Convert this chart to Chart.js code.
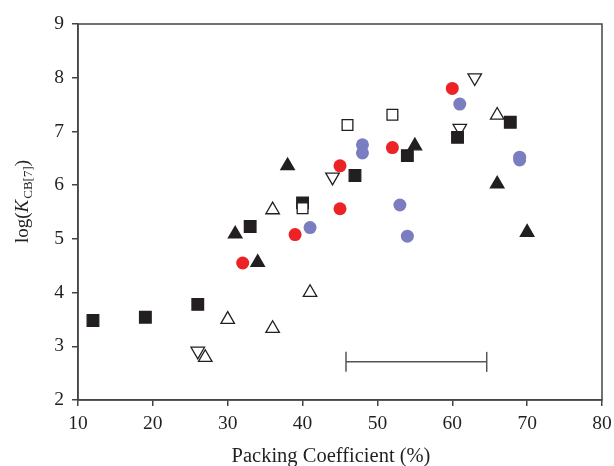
<!DOCTYPE html>
<html>
<head>
<meta charset="utf-8">
<script src="https://cdn.jsdelivr.net/npm/chart.js@4/dist/chart.umd.min.js"></script>
<style>
  html, body { margin: 0; padding: 0; background: #fff; }
  #wrap { width: 614px; height: 466px; }
</style>
</head>
<body>
<div id="wrap"><canvas id="chart" width="614" height="466"></canvas></div>
<script>
// values
const filledSquareX = [12, 19, 26, 33, 40, 47, 54, 60.7, 67.75];
const filledSquareY = [3.48, 3.54, 3.78, 5.23, 5.67, 6.18, 6.55, 6.89, 7.17];

const openSquareX = [40, 46, 52];
const openSquareY = [5.57, 7.12, 7.31];

const filledTriX = [31, 34, 38, 55, 66, 70];
const filledTriY = [5.09, 4.56, 6.36, 6.73, 6.02, 5.12];

const openTriUpX = [27, 30, 36, 36, 41, 66];
const openTriUpY = [2.79, 3.50, 3.33, 5.54, 4.00, 7.30];

const openTriDownX = [26, 44, 61, 63];
const openTriDownY = [2.91, 6.15, 7.06, 8.00];

const redX = [32, 39, 45, 45, 52, 60];
const redY = [4.55, 5.08, 5.56, 6.36, 6.70, 7.80];

const blueX = [41, 48, 48, 53, 54, 61, 69, 69];
const blueY = [5.21, 6.75, 6.60, 5.63, 5.05, 7.51, 6.52, 6.47];

// horizontal error bar at the bottom
const errorBarX = [45.8, 64.6];
const errorBarY = [2.71, 2.71];

const xTicks = [10, 20, 30, 40, 50, 60, 70, 80];
const yTicks = [2, 3, 4, 5, 6, 7, 8, 9];

const xTitle = 'Packing Coefficient (%)';

const FONT = "'Liberation Serif', 'Times New Roman', serif";
const INK = '#231f20';
const FRAME = '#444444';

function toPoints(xs, ys) {
    return xs.map((x, i) => ({ x: x, y: ys[i] }));
}

function markerSet(label, xs, ys, style, opts) {
    return Object.assign({
        label: label,
        data: toPoints(xs, ys),
        showLine: false,
        pointStyle: style,
        pointRotation: 0,
        pointRadius: 6.5,
        pointBorderWidth: 1.3,
    }, opts);
}

const datasets = [
    markerSet('open square', openSquareX, openSquareY, 'rect', {
        pointRadius: 7.6, backgroundColor: '#ffffff', borderColor: INK,
    }),
    markerSet('filled square', filledSquareX, filledSquareY, 'rect', {
        pointRadius: 8.2, backgroundColor: INK, borderColor: INK,
    }),
    markerSet('open triangle up', openTriUpX, openTriUpY, 'triangle', {
        pointRadius: 7.8, backgroundColor: '#ffffff', borderColor: INK,
    }),
    markerSet('open triangle down', openTriDownX, openTriDownY, 'triangle', {
        pointRadius: 7.8, pointRotation: 180, backgroundColor: '#ffffff', borderColor: INK,
    }),
    markerSet('filled triangle', filledTriX, filledTriY, 'triangle', {
        pointRadius: 7.8, backgroundColor: INK, borderColor: INK,
    }),
    markerSet('red', redX, redY, 'circle', {
        pointRadius: 6.5, pointBorderWidth: 0, backgroundColor: '#ec2227', borderColor: '#ec2227',
    }),
    markerSet('blue', blueX, blueY, 'circle', {
        pointRadius: 6.5, pointBorderWidth: 0, backgroundColor: '#7a7ec0', borderColor: '#7a7ec0',
    }),
    {
        label: 'error bar',
        data: toPoints(errorBarX, errorBarY),
        showLine: true,
        borderColor: '#555555',
        borderWidth: 1.5,
        pointStyle: 'line',
        pointRotation: 90,
        pointRadius: 10,
        pointBorderWidth: 1.5,
        pointBorderColor: '#555555',
    },
];

// draws the frame and both axis titles (the y title needs an italic K and a subscript)
const framePlugin = {
    id: 'frameAndTitles',
    afterDraw(chart) {
        const ctx = chart.ctx;
        const a = chart.chartArea;
        ctx.save();
        ctx.strokeStyle = FRAME;
        ctx.lineWidth = 1.5;
        ctx.strokeRect(a.left, a.top, a.right - a.left, a.bottom - a.top);

        ctx.fillStyle = INK;
        ctx.textBaseline = 'alphabetic';

        // x title
        ctx.font = '20.5px ' + FONT;
        ctx.textAlign = 'center';
        ctx.fillText(xTitle, 331, 462);

        // y title, rotated
        const parts = [
            { t: 'log(', f: '19px ' + FONT, dy: 0 },
            { t: 'K', f: 'italic 19px ' + FONT, dy: 0 },
            { t: 'CB[7]', f: '13px ' + FONT, dy: 4 },
            { t: ')', f: '19px ' + FONT, dy: 0 },
        ];
        let total = 0;
        parts.forEach(p => { ctx.font = p.f; p.w = ctx.measureText(p.t).width; total += p.w; });
        ctx.translate(28, 202);
        ctx.rotate(-Math.PI / 2);
        ctx.textAlign = 'left';
        let cx = -total / 2;
        parts.forEach(p => {
            ctx.font = p.f;
            ctx.fillText(p.t, cx, p.dy);
            cx += p.w + (p.t === 'K' ? 1 : 0);
        });
        ctx.restore();
    }
};

const ctx = document.getElementById('chart').getContext('2d');
new Chart(ctx, {
    type: 'scatter',
    data: { datasets: datasets },
    options: {
        responsive: false,
        animation: false,
        events: [],
        layout: { padding: { top: 24, right: 12, left: 0, bottom: 0 } },
        plugins: {
            legend: { display: false },
            tooltip: { enabled: false },
        },
        scales: {
            x: {
                type: 'linear',
                min: 10,
                max: 80,
                afterBuildTicks: axis => { axis.ticks = xTicks.map(v => ({ value: v })); },
                afterFit: axis => { axis.height = 66; axis.paddingRight = 0; axis.paddingLeft = 0; },
                grid: { drawOnChartArea: false, drawTicks: true, tickLength: 6, color: FRAME, lineWidth: 1.5 },
                border: { display: true, color: FRAME, width: 1.5 },
                ticks: { color: INK, font: { family: FONT, size: 19.5 }, padding: 6, maxRotation: 0 },
                title: { display: false },
            },
            y: {
                type: 'linear',
                min: 2,
                max: 9,
                afterBuildTicks: axis => { axis.ticks = yTicks.map(v => ({ value: v })); },
                afterFit: axis => { axis.width = 78; axis.paddingTop = 0; axis.paddingBottom = 0; },
                grid: { drawOnChartArea: false, drawTicks: true, tickLength: 6, color: FRAME, lineWidth: 1.5 },
                border: { display: true, color: FRAME, width: 1.5 },
                ticks: { color: INK, font: { family: FONT, size: 19.5 }, padding: 8 },
                title: { display: false },
            },
        },
    },
    plugins: [framePlugin],
});
</script>
</body>
</html>
